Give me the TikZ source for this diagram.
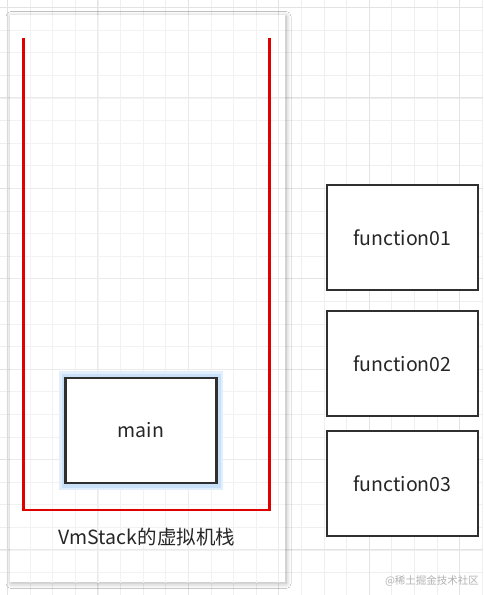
\documentclass[tikz,border=0pt]{standalone}
\usepackage{fontspec}
\setmainfont{Noto Sans CJK SC}
\usetikzlibrary{shadows.blur}
\definecolor{gridminor}{HTML}{EFEFEF}
\definecolor{gridmajor}{HTML}{E3E3E3}
\definecolor{stackred}{HTML}{E00000}
\definecolor{boxborder}{HTML}{2F2F2F}
\definecolor{glow}{HTML}{9CC8F5}
\tikzset{
  framebox/.style={draw=boxborder, line width=2.6pt, fill=white, minimum width=151pt, minimum height=105pt, inner sep=0pt, font=\fontsize{19.5}{22}\selectfont, text=black!85},
  stackline/.style={draw=stackred, line width=2.6pt},
  panel/.style={fill=white, draw=none, blur shadow={shadow xshift=1pt, shadow yshift=-1.5pt, shadow blur radius=5pt, shadow blur steps=12, shadow opacity=30}},
}
\begin{document}
\begin{tikzpicture}[x=1pt,y=-1pt]
\useasboundingbox (0,0) rectangle (483,595);
\fill[white] (0,0) rectangle (483,595);
% grid
\foreach \i in {0,...,22} {
  \draw[gridminor, line width=0.8pt] ({7.5+22.6*\i},0) -- ({7.5+22.6*\i},595);
}
\foreach \i in {0,...,26} {
  \draw[gridminor, line width=0.8pt] (0,{7.5+22.6*\i}) -- (483,{7.5+22.6*\i});
}
\foreach \i in {0,...,5} {
  \draw[gridmajor, line width=1pt] ({7.5+90.4*\i},0) -- ({7.5+90.4*\i},595);
}
\foreach \i in {0,...,6} {
  \draw[gridmajor, line width=1pt] (0,{7.5+90.4*\i}) -- (483,{7.5+90.4*\i});
}
% panel
\node[panel, minimum width=275pt, minimum height=567pt, inner sep=0pt] (panel) at (147.5,298.5) {};
\begin{scope}
\clip (10,15) rectangle (285,582);
\foreach \i in {0,...,22} {
  \draw[gridminor!80, line width=0.7pt] ({7.5+22.6*\i},0) -- ({7.5+22.6*\i},595);
}
\foreach \i in {0,...,26} {
  \draw[gridminor!80, line width=0.7pt] (0,{7.5+22.6*\i}) -- (483,{7.5+22.6*\i});
}
\foreach \i in {0,...,5} {
  \draw[gridmajor!70, line width=0.9pt] ({7.5+90.4*\i},0) -- ({7.5+90.4*\i},595);
}
\foreach \i in {0,...,6} {
  \draw[gridmajor!70, line width=0.9pt] (0,{7.5+90.4*\i}) -- (483,{7.5+90.4*\i});
}
\end{scope}
% red stack
\coordinate (tl) at (23.5,38);
\coordinate (bl) at (23.5,510);
\coordinate (br) at (269.5,510);
\coordinate (tr) at (269.5,38);
\draw[stackline] (tl) -- (bl) -- (br) -- (tr);
% main box with glow
\fill[glow!30] (59,371) rectangle (223,490);
\fill[glow!55] (61.5,373.5) rectangle (220.5,487.5);
\node[framebox] (main) at (141,430.5) {main};
\node[font=\fontsize{19.5}{22}\selectfont, text=black!85] (label) at (147,537) {VmStack的虚拟机栈};
% functions
\node[framebox] (f1) at (402.5,237.5) {function01};
\node[framebox] (f2) at (402.5,363.5) {function02};
\node[framebox] (f3) at (402.5,483.5) {function03};
\node[font=\fontsize{10.5}{12}\selectfont, text=black!30] (wm) at (432,581) {@稀土掘金技术社区};
\end{tikzpicture}
\end{document}
